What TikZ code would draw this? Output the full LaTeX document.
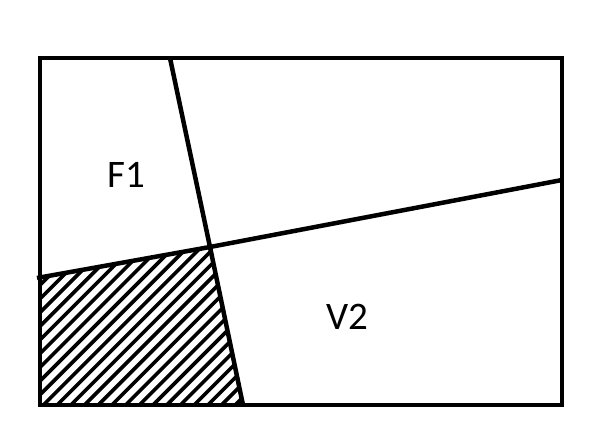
\documentclass[tikz,border=0pt]{standalone}
\usepackage{fontspec}
\setmainfont{Carlito}
\begin{document}
\begin{tikzpicture}[x=1pt,y=-1pt,
  edge/.style={line width=4.5pt},
  hatch/.style={line width=3.6pt},
  lbl/.style={font=\fontsize{39}{39}\selectfont, inner sep=0pt}]
\useasboundingbox (0,0) rectangle (600,442);
\coordinate (TL) at (40,58);
\coordinate (BR) at (562,405);
\coordinate (BL) at (40,405);
\coordinate (A1) at (170,58);
\coordinate (X) at (210,247);
\coordinate (A2) at (243,405);
\coordinate (B1) at (37,278);
\coordinate (B2) at (562,180);
\coordinate (BLe) at (40,277.5);
% hatched region
\begin{scope}
  \clip (BLe) -- (X) -- (A2) -- (BL) -- cycle;
  \foreach \c in {-420,-406.3,...,280} {
    \draw[hatch] (\c,430) -- (\c+400,30);
  }
\end{scope}
\draw[edge] (TL) rectangle (BR);
\draw[edge] (A1) -- (X) -- (A2);
\draw[edge] (B1) -- (X) -- (B2);
\node[lbl] (f1) at (126,175) {F1};
\node[lbl] (v2) at (347,317) {V2};
\end{tikzpicture}
\end{document}
